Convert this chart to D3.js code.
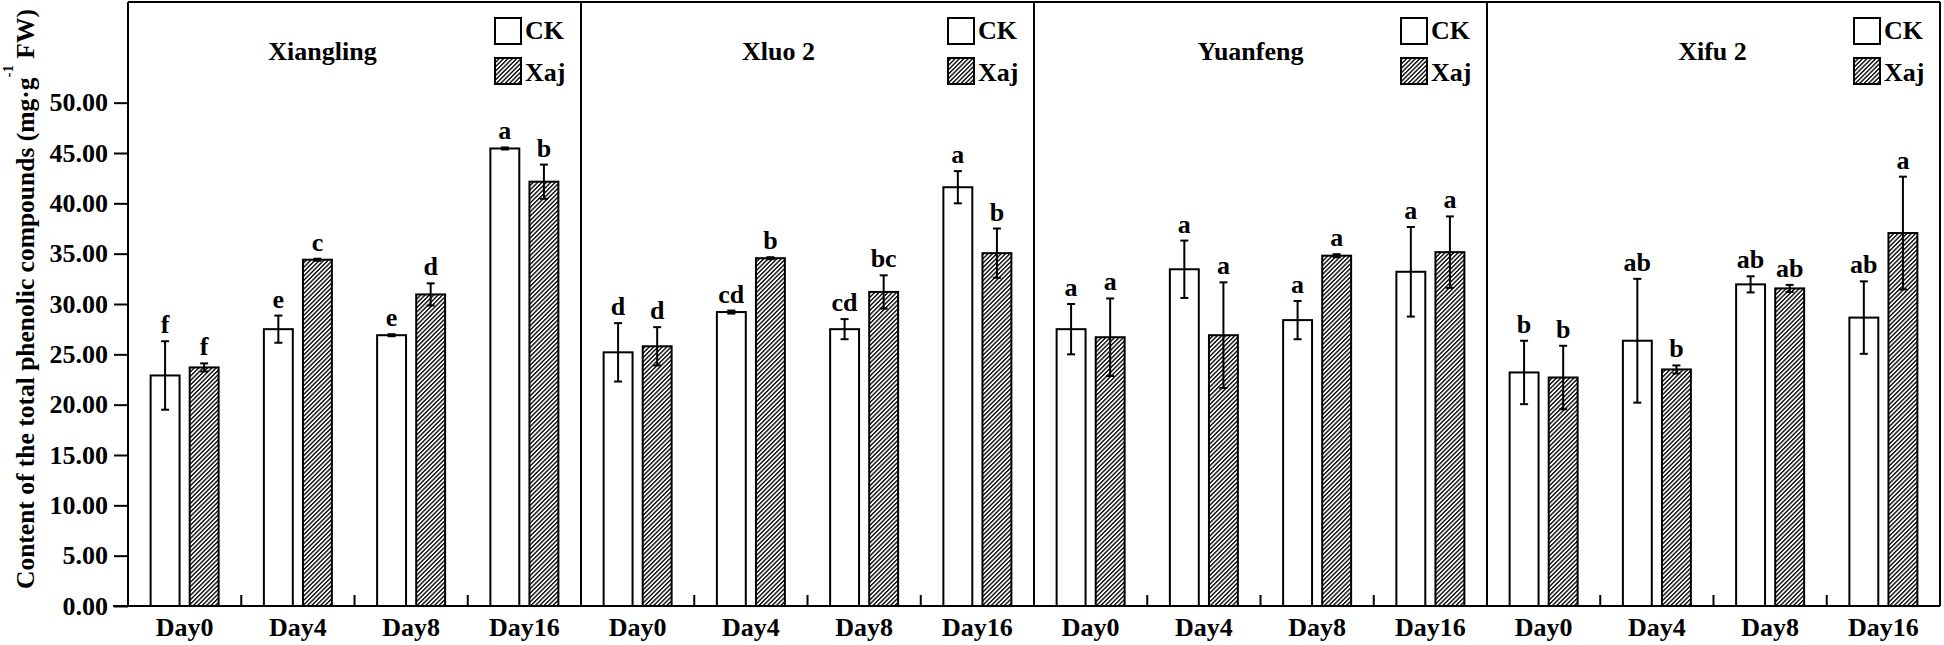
<!DOCTYPE html>
<html>
<head>
<meta charset="utf-8">
<script src="https://cdn.jsdelivr.net/npm/d3@7/dist/d3.min.js"></script>
<style>
  html, body { margin: 0; padding: 0; background: #fff; }
  svg { display: block; }
  text { font-family: "Liberation Serif", "Times New Roman", serif; font-weight: bold; fill: #000; }
</style>
</head>
<body>
<svg id="chart" width="1944" height="645"></svg>
<script>
// ---------------- data ----------------
const cultivars = ["Xiangling", "Xluo 2", "Yuanfeng", "Xifu 2"];
const days = ["Day0", "Day4", "Day8", "Day16"];
const seriesNames = ["CK", "Xaj"];
const yTicks = [0, 5, 10, 15, 20, 25, 30, 35, 40, 45, 50];

const ckMeans = [
  [22.9, 27.5, 26.9, 45.45],
  [25.2, 29.2, 27.5, 41.6],
  [27.5, 33.45, 28.4, 33.2],
  [23.2, 26.35, 31.95, 28.65]
];
const ckErr = [
  [3.4, 1.35, 0.1, 0.1],
  [2.9, 0.15, 1.0, 1.6],
  [2.5, 2.85, 1.9, 4.45],
  [3.15, 6.15, 0.8, 3.6]
];
const xajMeans = [
  [23.7, 34.4, 30.95, 42.15],
  [25.8, 34.55, 31.2, 35.05],
  [26.7, 26.9, 34.8, 35.15],
  [22.7, 23.5, 31.55, 37.05]
];
const xajErr = [
  [0.4, 0.1, 1.1, 1.7],
  [1.9, 0.1, 1.65, 2.45],
  [3.85, 5.25, 0.15, 3.55],
  [3.15, 0.4, 0.35, 5.6]
];
const ckLetters = [
  ["f", "e", "e", "a"],
  ["d", "cd", "cd", "a"],
  ["a", "a", "a", "a"],
  ["b", "ab", "ab", "ab"]
];
const xajLetters = [
  ["f", "c", "d", "b"],
  ["d", "b", "bc", "b"],
  ["a", "a", "a", "a"],
  ["b", "b", "ab", "a"]
];

// ---------------- layout ----------------
const plotL = 128, plotR = 1940, plotT = 2, plotB = 606;
const titleOffsets = [-32, -29, -10, -1];
const svg = d3.select("#chart");

const defs = svg.append("defs");
const pat = defs.append("pattern")
  .attr("id", "hatch")
  .attr("patternUnits", "userSpaceOnUse")
  .attr("width", 3.1).attr("height", 3.1)
  .attr("patternTransform", "rotate(45)");
pat.append("rect").attr("width", 3.1).attr("height", 3.1).attr("fill", "#fff");
pat.append("line").attr("x1", 0.7).attr("y1", -1).attr("x2", 0.7).attr("y2", 5)
  .attr("stroke", "#000").attr("stroke-width", 1.35);

const y = d3.scaleLinear().domain([0, 60]).range([plotB, plotT]);
const xPanel = d3.scaleBand().domain(cultivars).range([plotL, plotR]);
const xDay = d3.scaleBand().domain(days).range([0, xPanel.bandwidth()]);
const groupInner = 68;
const xSer = d3.scaleBand().domain(seriesNames).range([0, groupInner]).paddingInner(0.26);

// records
const records = [];
cultivars.forEach((c, ci) => {
  days.forEach((d, di) => {
    records.push({c, d, s: "CK", v: ckMeans[ci][di], e: ckErr[ci][di], l: ckLetters[ci][di]});
    records.push({c, d, s: "Xaj", v: xajMeans[ci][di], e: xajErr[ci][di], l: xajLetters[ci][di]});
  });
});
const barX = r => xPanel(r.c) + xDay(r.d) + xDay.bandwidth() / 2 - groupInner / 2 + xSer(r.s);

// bars
svg.append("g").selectAll("rect").data(records).join("rect")
  .attr("x", barX)
  .attr("y", r => y(r.v))
  .attr("width", xSer.bandwidth())
  .attr("height", r => y(0) - y(r.v))
  .attr("fill", r => r.s === "CK" ? "#fff" : "url(#hatch)")
  .attr("stroke", "#000")
  .attr("stroke-width", 2);

// error bars
const eg = svg.append("g").attr("stroke", "#000").attr("stroke-width", 2);
records.forEach(r => {
  const cx = barX(r) + xSer.bandwidth() / 2;
  eg.append("line").attr("x1", cx).attr("x2", cx).attr("y1", y(r.v + r.e)).attr("y2", y(r.v - r.e));
  [r.v + r.e, r.v - r.e].forEach(val => {
    eg.append("line").attr("x1", cx - 4).attr("x2", cx + 4).attr("y1", y(val)).attr("y2", y(val));
  });
});

// letters
svg.append("g").selectAll("text").data(records).join("text")
  .attr("x", r => barX(r) + xSer.bandwidth() / 2)
  .attr("y", r => y(r.v + r.e) - 8)
  .attr("text-anchor", "middle")
  .attr("font-size", 26)
  .text(r => r.l);

// frame
const fg = svg.append("g").attr("stroke", "#000").attr("stroke-width", 2).attr("fill", "none");
fg.append("line").attr("x1", plotL).attr("x2", plotR).attr("y1", plotT).attr("y2", plotT);
fg.append("line").attr("x1", plotR).attr("x2", plotR).attr("y1", plotT).attr("y2", plotB);
fg.append("line").attr("x1", plotL).attr("x2", plotL).attr("y1", plotT).attr("y2", plotB);
fg.append("line").attr("x1", plotL - 15).attr("x2", plotR).attr("y1", plotB).attr("y2", plotB);
cultivars.slice(1).forEach(c => {
  fg.append("line").attr("x1", xPanel(c)).attr("x2", xPanel(c)).attr("y1", plotT).attr("y2", plotB);
});
// group ticks
cultivars.forEach(c => {
  days.slice(1).forEach(d => {
    const gx = xPanel(c) + xDay(d);
    fg.append("line").attr("x1", gx).attr("x2", gx).attr("y1", plotB).attr("y2", plotB - 11);
  });
});

// y axis
const yAxis = svg.append("g").attr("transform", `translate(${plotL},0)`)
  .call(d3.axisLeft(y).tickValues(yTicks).tickFormat(d3.format(".2f")).tickSize(14).tickPadding(6));
yAxis.select(".domain").remove();
yAxis.selectAll(".tick line").attr("stroke", "#000").attr("stroke-width", 2);
yAxis.selectAll(".tick text").attr("font-size", 26)
  .attr("font-family", '"Liberation Serif", "Times New Roman", serif')
  .attr("font-weight", "bold").attr("fill", "#000");

// x labels
cultivars.forEach(c => {
  svg.append("g").selectAll("text").data(days).join("text")
    .attr("x", d => xPanel(c) + xDay(d) + xDay.bandwidth() / 2)
    .attr("y", 636)
    .attr("text-anchor", "middle")
    .attr("font-size", 26)
    .text(d => d);
});

// titles and legends
cultivars.forEach((c, ci) => {
  const px = xPanel(c), pw = xPanel.bandwidth();
  svg.append("text")
    .attr("x", px + pw / 2 + titleOffsets[ci]).attr("y", 60)
    .attr("text-anchor", "middle").attr("font-size", 26).text(c);
  const lx = px + pw - 86;
  seriesNames.forEach((s, si) => {
    const ly = 18 + si * 40;
    svg.append("rect").attr("x", lx).attr("y", ly).attr("width", 26).attr("height", 26)
      .attr("fill", s === "CK" ? "#fff" : "url(#hatch)")
      .attr("stroke", "#000").attr("stroke-width", 2);
    svg.append("text").attr("x", lx + 30).attr("y", ly + 21 + si * 2)
      .attr("font-size", 26).text(s);
  });
});

// y title
const yt = svg.append("text")
  .attr("transform", "translate(34,589) rotate(-90)")
  .attr("text-anchor", "start")
  .attr("font-size", 25.5);
yt.append("tspan").text("Content of the total phenolic compounds (mg·g");
yt.append("tspan").attr("font-size", 15).attr("dy", -21).text("-1");
yt.append("tspan").attr("dy", 21).text(" FW)");
</script>
</body>
</html>
